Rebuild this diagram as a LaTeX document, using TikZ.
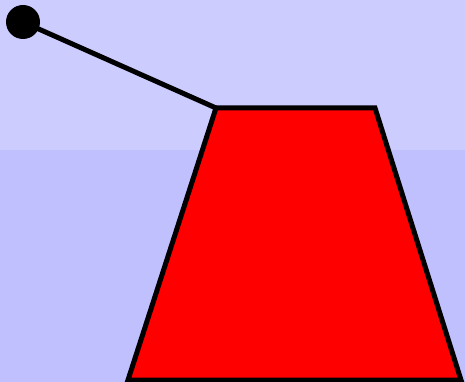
\documentclass[tikz,border=0pt]{standalone}
\definecolor{skytop}{RGB}{204,204,255}
\definecolor{skybot}{RGB}{192,192,255}
\tikzset{
  outline/.style={draw=black, line width=5pt, line join=miter},
}
\begin{document}
\begin{tikzpicture}[x=1pt,y=-1pt]
\useasboundingbox (0,0) rectangle (465,382);
\fill[skytop] (0,0) rectangle (465,150);
\fill[skybot] (0,150) rectangle (465,382);
\coordinate (tl) at (216,108);
\coordinate (tr) at (375,108);
\coordinate (br) at (461,380);
\coordinate (bl) at (128,380);
\node[circle, fill=black, minimum size=34pt, inner sep=0pt] (ball) at (23,22) {};
\draw[line width=5pt] (ball.center) -- (tl);
\draw[outline, fill=red] (tl) -- (tr) -- (br) -- (bl) -- cycle;
\end{tikzpicture}
\end{document}
